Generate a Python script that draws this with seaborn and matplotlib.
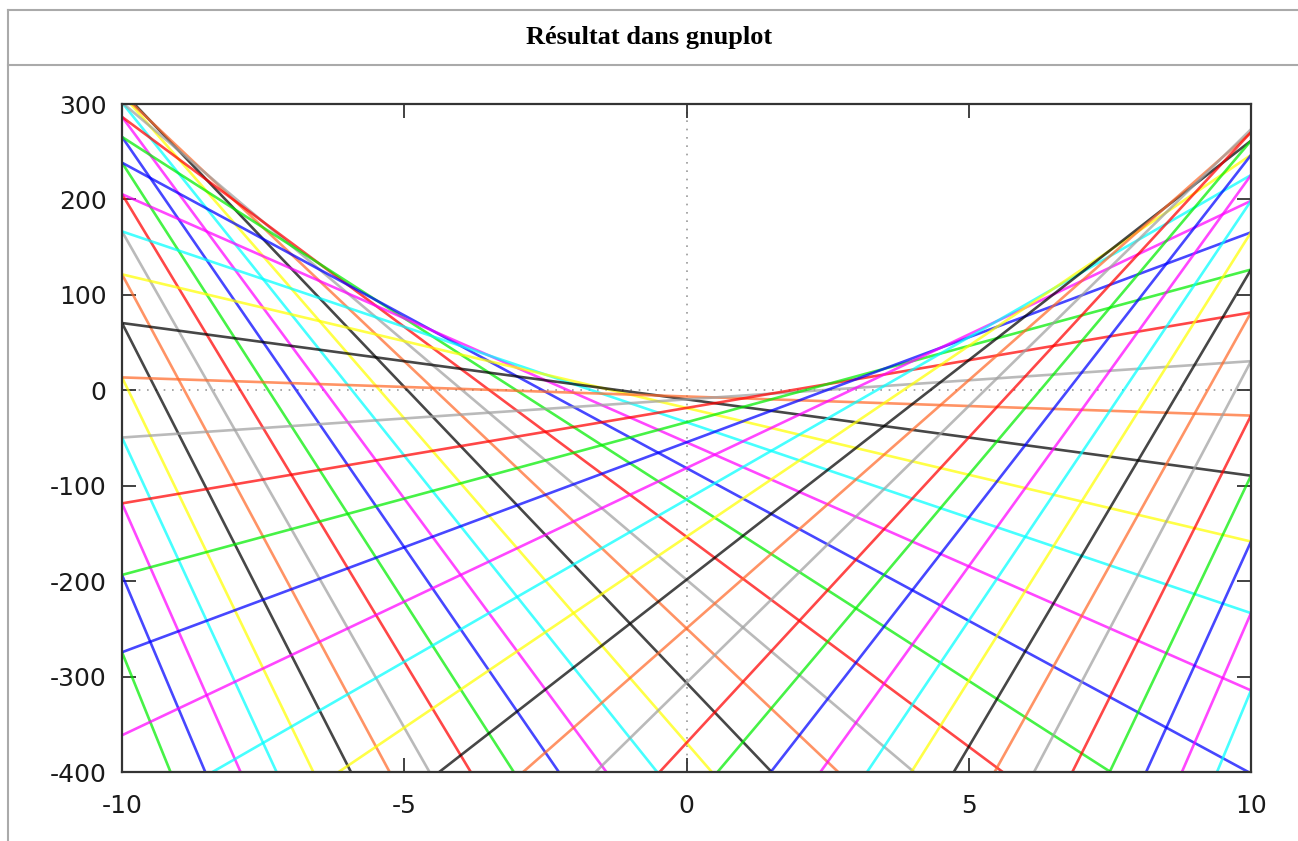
import matplotlib
matplotlib.use("Agg")
import matplotlib.pyplot as plt
from matplotlib.lines import Line2D
import seaborn as sns
import pandas as pd

# ---- data: family of tangent lines y = slope*x + intercept
tangent_points = list(range(-24, 25))
slopes = [-146, -140, -134, -128, -122, -116, -110, -104, -98, -92, -86, -80,
          -74, -68, -62, -56, -50, -44, -38, -32, -26, -20, -14, -8, -2,
          4, 10, 16, 22, 28, 34, 40, 46, 52, 58, 64, 70, 76, 82, 88, 94, 100,
          106, 112, 118, 124, 130, 136, 142]
intercepts = [-1734.5, -1593.5, -1458.5, -1329.5, -1206.5, -1089.5, -978.5,
              -873.5, -774.5, -681.5, -594.5, -513.5, -438.5, -369.5, -306.5,
              -249.5, -198.5, -153.5, -114.5, -81.5, -54.5, -33.5, -18.5, -9.5,
              -6.5,
              -9.5, -18.5, -33.5, -54.5, -81.5, -114.5, -153.5, -198.5, -249.5,
              -306.5, -369.5, -438.5, -513.5, -594.5, -681.5, -774.5, -873.5,
              -978.5, -1089.5, -1206.5, -1329.5, -1458.5, -1593.5, -1734.5]
x_range = [-10, 10]
x_ticks = [-10, -5, 0, 5, 10]
y_ticks = [-400, -300, -200, -100, 0, 100, 200, 300]
title = "Résultat dans gnuplot"

cycle = ["#ff0000", "#00ee00", "#0000ff", "#ff00ff", "#00ffff",
         "#ffff00", "#000000", "#ff6a2a", "#a0a0a0"]

rows = []
for i, (m, q) in enumerate(zip(slopes, intercepts)):
    for x in x_range:
        rows.append({"line": i, "x": x, "y": m * x + q})
df = pd.DataFrame(rows)
palette = {i: cycle[(i + 1) % len(cycle)] for i in range(len(slopes))}

fig = plt.figure(figsize=(12.98, 8.41), dpi=100)
fig.patch.set_facecolor("white")
ax = fig.add_axes([122 / 1298, 1 - 772 / 841, (1251 - 122) / 1298, (772 - 104) / 841])

ax.axhline(0, color="#999999", lw=1.2, ls=(0, (1, 4)), zorder=0.5)
ax.axvline(0, color="#999999", lw=1.2, ls=(0, (1, 4)), zorder=0.5)

sns.lineplot(data=df, x="x", y="y", hue="line", palette=palette, legend=False,
             estimator=None, sort=False, linewidth=1.9, alpha=0.72, ax=ax)

ax.set_xlim(-10, 10)
ax.set_ylim(-400, 300)
ax.set_xticks(x_ticks)
ax.set_yticks(y_ticks)
ax.set_xticklabels([str(v) for v in x_ticks])
ax.set_yticklabels([str(v) for v in y_ticks])
ax.set_xlabel("")
ax.set_ylabel("")
for s in ax.spines.values():
    s.set_color("#333333")
    s.set_linewidth(1.6)
ax.tick_params(direction="in", length=10, width=1.3, color="#333333",
               top=True, right=True, labelsize=18, labelcolor="#1a1a1a")
ax.tick_params(axis="x", pad=16)
ax.tick_params(axis="y", pad=11)

# table frame around the chart
border = "#aaaaaa"
xl = 7.5 / 1298
y1 = 1 - 10 / 841
y2 = 1 - 64.5 / 841
fig.add_artist(Line2D([xl, 1], [y1, y1], color=border, lw=1.5, transform=fig.transFigure))
fig.add_artist(Line2D([xl, 1], [y2, y2], color=border, lw=1.5, transform=fig.transFigure))
fig.add_artist(Line2D([xl, xl], [0, y1], color=border, lw=1.5, transform=fig.transFigure))

fig.text(0.5, 1 - 37.5 / 841, title, ha="center", va="center",
         fontsize=19, fontweight="bold", family="Liberation Serif", color="#000000")

fig.savefig("out.png", dpi=100, facecolor="white")
